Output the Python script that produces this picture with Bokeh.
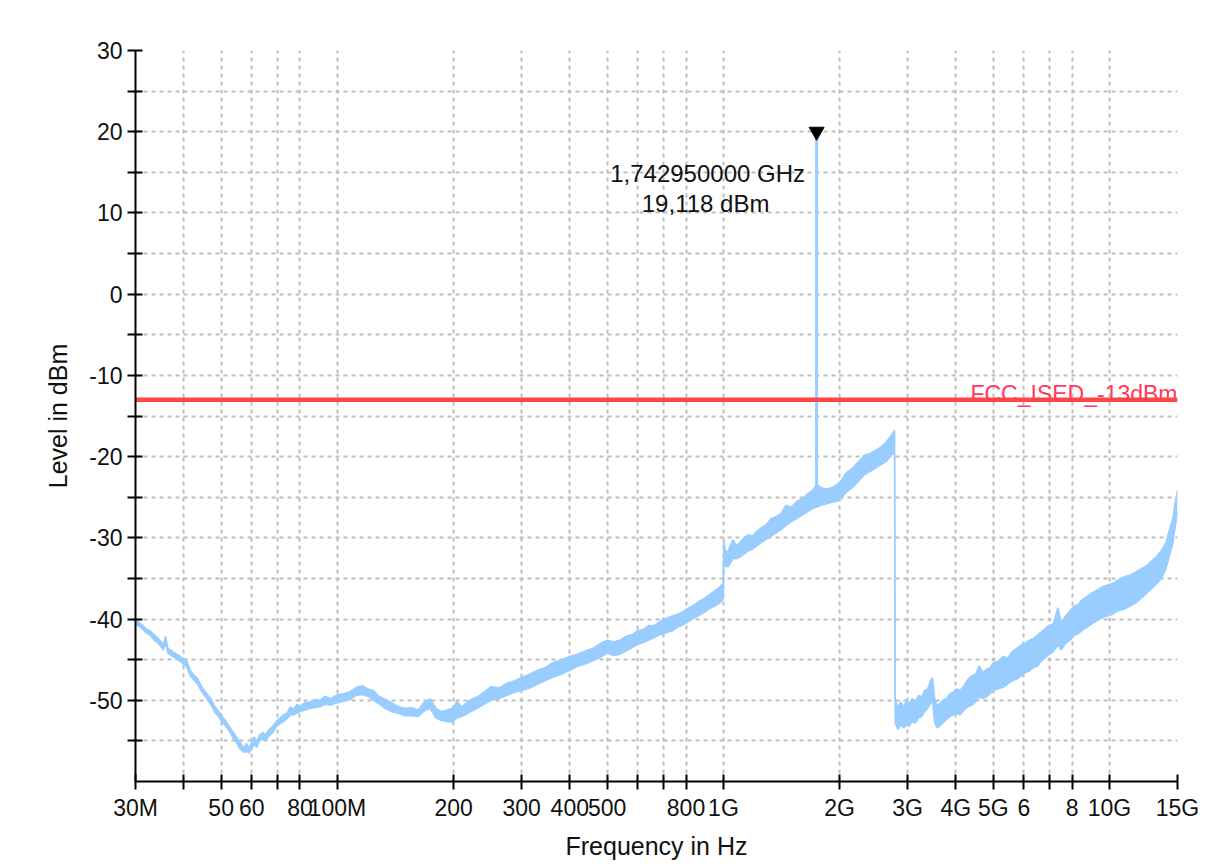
from bokeh.plotting import figure
from bokeh.models import Range1d, FixedTicker, CustomJSTickFormatter, Label
from bokeh.core.properties import value
from bokeh.embed import file_html
from bokeh.resources import INLINE

# ---------------- data ----------------
# spectrum trace: frequency in MHz with upper / lower edge of the noisy trace in dBm
freq_mhz = [
    30.0, 31.0, 32.0, 32.8, 33.5, 34.2, 34.8, 35.4, 35.9, 36.4, 37.2, 38.0, 39.2, 40.0, 40.6,
    41.6, 42.5, 43.4, 44.5, 45.6, 47.0, 48.2, 49.2, 50.3, 51.5, 52.8, 53.8, 54.8, 56.0, 57.2,
    58.2, 59.0, 60.0, 60.8, 61.8, 62.8, 64.0, 65.2, 66.5, 68.0, 69.5, 71.0, 72.5, 74.0, 75.5,
    77.0, 78.5, 80.0, 82.5, 85.0, 87.5, 90.0, 93.0, 96.0, 100.0,
    104, 108, 112, 116, 120, 124, 128, 133, 138, 144, 150, 156, 162, 168, 174, 180, 186, 192,
    198, 204, 210, 220, 230, 240, 250, 262, 275, 288, 300,
    315, 330, 345, 360, 380, 400, 420, 440, 460, 480, 500, 520, 540, 560, 580, 600, 620, 640,
    660, 680, 700, 720, 740, 760, 780, 800, 830, 860, 890, 920, 950, 980, 998,
    1003, 1010, 1025, 1040, 1060, 1080, 1100, 1130, 1160, 1190, 1220, 1250, 1290, 1330, 1370,
    1410, 1450, 1500, 1550, 1600, 1650, 1700, 1745, 1790, 1850, 1920, 2000, 2080, 2160, 2240,
    2320, 2400, 2480, 2560, 2640, 2720, 2775,
    2785, 2830, 2880, 2930, 2980, 3030, 3080, 3140, 3200, 3260, 3320, 3380, 3440, 3480, 3520,
    3570, 3630, 3700, 3780, 3860, 3940, 4020, 4100, 4200, 4300, 4400, 4500, 4600, 4700, 4800,
    4900, 5000, 5150, 5300, 5450, 5600, 5750, 5900, 6050, 6200, 6350, 6500, 6650, 6800, 6950,
    7150, 7350, 7500, 7700, 7900, 8100, 8300, 8500, 8750, 9000, 9300, 9600, 9900, 10200, 10500,
    10900, 11300, 11700, 12100, 12500, 12900, 13300, 13700, 14000, 14300, 14600, 14800, 15000,
]
level_hi = [
    -40.0, -40.6, -41.2, -41.5, -41.9, -42.3, -42.7, -43.1, -42.1, -43.6, -43.9, -44.2, -44.6, -45.0, -44.9,
    -46.3, -46.9, -47.3, -48.3, -49.0, -49.8, -50.8, -51.3, -52.0, -52.6, -53.4, -54.0, -54.5, -55.2, -55.8,
    -55.3, -55.9, -55.2, -54.5, -55.0, -54.3, -54.0, -54.2, -53.6, -53.2, -52.6, -52.2, -51.8, -51.6, -50.8,
    -51.1, -50.5, -50.7, -50.3, -50.2, -49.9, -50.0, -49.5, -49.8, -49.3,
    -49.2, -48.9, -48.4, -48.2, -48.6, -48.8, -49.5, -49.9, -50.3, -50.8, -51.0, -50.9, -51.2, -50.2, -49.8, -51.0, -51.4, -51.2,
    -51.0, -50.2, -50.8, -50.0, -49.6, -49.0, -48.3, -48.5, -47.9, -47.6, -47.2,
    -46.8, -46.3, -46.0, -45.4, -45.0, -44.6, -44.3, -43.9, -43.6, -43.0, -42.6, -42.8, -42.6, -42.1, -41.9, -41.4, -41.3, -40.8,
    -40.8, -40.4, -40.0, -39.8, -39.6, -39.4, -39.2, -38.8, -38.4, -37.9, -37.5, -37.0, -36.5, -36.0, -35.6,
    -30.2, -31.5, -31.8, -31.0, -30.2, -31.0, -30.6, -30.0, -29.6, -29.8, -29.2, -28.8, -28.4, -27.6, -27.4,
    -27.0, -26.0, -26.2, -25.5, -25.2, -24.6, -24.2, -23.4, -23.8, -24.0, -23.8, -23.2, -22.0, -21.4, -20.6,
    -19.8, -19.6, -19.2, -18.8, -18.2, -17.4, -16.8,
    -50.0, -50.8, -50.2, -50.8, -50.0, -50.4, -49.8, -50.2, -49.4, -49.6, -48.8, -48.6, -47.6, -47.2, -49.6,
    -50.6, -50.4, -50.0, -49.8, -49.2, -49.0, -48.6, -48.8, -48.2, -47.4, -47.0, -46.8, -45.8, -46.6, -46.2,
    -46.0, -45.4, -45.2, -44.6, -44.8, -44.0, -43.6, -43.2, -43.0, -42.6, -42.4, -42.0, -41.6, -41.2, -40.8,
    -40.6, -38.6, -40.4, -39.6, -39.0, -38.4, -38.2, -37.6, -37.2, -36.8, -36.4, -36.0, -35.8, -35.6, -35.2,
    -34.8, -34.6, -34.2, -33.8, -33.4, -32.8, -32.2, -31.4, -30.6, -29.0, -27.6, -25.6, -24.2,
]
level_lo = [
    -40.6, -41.1, -41.7, -42.0, -42.6, -42.9, -43.3, -43.8, -43.0, -44.2, -44.5, -44.8, -45.2, -45.6, -45.8,
    -47.0, -47.5, -48.0, -48.9, -49.6, -50.5, -51.5, -52.0, -52.7, -53.2, -54.0, -54.8, -55.2, -56.0, -56.4,
    -56.3, -56.5, -56.0, -55.4, -55.8, -55.0, -54.8, -55.0, -54.4, -54.0, -53.2, -52.9, -52.6, -52.3, -51.8,
    -51.8, -51.6, -51.4, -51.2, -51.0, -50.9, -50.8, -50.5, -50.6, -50.3,
    -50.1, -49.9, -49.4, -49.3, -49.5, -50.0, -50.4, -51.0, -51.4, -51.6, -51.9, -51.9, -52.0, -51.3, -51.0, -52.2, -52.5, -52.6,
    -52.7, -52.2, -52.0, -51.5, -51.0, -50.5, -50.0, -49.8, -49.4, -49.0, -48.8,
    -48.5, -48.0, -47.6, -47.2, -46.8, -46.3, -45.8, -45.5, -45.1, -44.7, -44.2, -44.5, -44.3, -43.9, -43.5, -43.1, -42.9, -42.6,
    -42.3, -42.0, -41.8, -41.6, -41.4, -41.0, -40.8, -40.5, -40.0, -39.6, -39.2, -38.7, -38.4, -38.0, -37.6,
    -33.5, -33.4, -33.6, -33.2, -32.5, -32.6, -32.4, -32.0, -31.6, -31.4, -31.0, -30.6, -30.2, -29.8, -29.4,
    -29.0, -28.5, -28.0, -27.6, -27.2, -26.8, -26.4, -26.2, -26.0, -25.8, -25.6, -25.4, -24.4, -23.8, -23.0,
    -22.2, -21.8, -21.4, -21.0, -20.6, -19.8, -19.6,
    -52.8, -53.6, -53.0, -53.4, -53.0, -53.2, -52.6, -52.8, -52.2, -52.0, -51.4, -51.0, -50.4, -50.0, -52.6,
    -53.4, -53.2, -52.8, -52.4, -52.0, -51.8, -51.6, -51.8, -51.2, -50.8, -50.6, -50.2, -49.6, -49.8, -49.6,
    -49.2, -48.8, -48.6, -48.4, -48.0, -47.6, -47.4, -47.0, -46.6, -46.4, -46.0, -45.8, -45.2, -44.8, -44.4,
    -44.0, -43.2, -43.8, -43.0, -42.6, -42.0, -41.8, -41.4, -41.0, -40.6, -40.2, -39.8, -39.6, -39.4, -39.0,
    -38.8, -38.4, -38.0, -37.4, -36.8, -36.2, -35.6, -34.8, -33.8, -32.2, -30.6, -28.6, -26.8,
]

# marker (peak)
peak_freq_mhz = 1742.95
peak_level = 19.118
peak_foot_level = -25.0

# limit line
limit_level = -13.0
limit_name = "FCC_ISED_-13dBm"

# axes
x_ticks = [30e6, 40e6, 50e6, 60e6, 70e6, 80e6, 100e6, 200e6, 300e6, 400e6, 500e6, 600e6,
           700e6, 800e6, 1e9, 2e9, 3e9, 4e9, 5e9, 6e9, 7e9, 8e9, 10e9, 15e9]
x_tick_labels = ["30M", "", "50", "60", "", "80", "100M", "200", "300", "400", "500", "",
                 "", "800", "1G", "2G", "3G", "4G", "5G", "6", "", "8", "10G", "15G"]
y_ticks = [-55, -50, -45, -40, -35, -30, -25, -20, -15, -10, -5, 0, 5, 10, 15, 20, 25, 30]
y_tick_labels = ["", "-50", "", "-40", "", "-30", "", "-20", "", "-10", "", "0", "", "10", "", "20", "", "30"]
x_min, x_max = 30e6, 15e9
y_min, y_max = -60, 30

# ---------------- figure ----------------
FONT = "Liberation Sans"
TRACE = "#99ccff"

p = figure(width=1217, height=862, x_axis_type="log",
           x_range=Range1d(x_min, x_max), y_range=Range1d(y_min, y_max),
           output_backend="svg", toolbar_location=None,
           min_border_left=135, min_border_right=40, min_border_top=50, min_border_bottom=79)
p.outline_line_color = None
p.background_fill_color = "white"
p.border_fill_color = "white"

freq_hz = [f * 1e6 for f in freq_mhz]
p.varea(x=freq_hz, y1=level_lo, y2=level_hi, fill_color=TRACE, fill_alpha=1.0)
p.line(freq_hz, level_hi, line_color=TRACE, line_width=1.5)
p.line(freq_hz, level_lo, line_color=TRACE, line_width=1.5)

peak_hz = peak_freq_mhz * 1e6
p.line([peak_hz, peak_hz], [peak_foot_level, peak_level], line_color=TRACE, line_width=3)

# limit line: name text drawn first, so the line covers its underscores
p.text(x=[x_max], y=[limit_level + 0.7], text=[limit_name], text_align="right",
       text_baseline="alphabetic", text_font=value(FONT), text_font_size="23px",
       text_color="#ff3a5c")
p.line([x_min, x_max], [limit_level, limit_level], line_color="#ff4545", line_width=4.5)

# peak marker
p.scatter([peak_hz], [peak_level + 0.9], marker="inverted_triangle", size=15,
          fill_color="black", line_color="black")
freq_txt = f"{peak_freq_mhz / 1000:.9f}".replace(".", ",") + " GHz"
lvl_txt = f"{peak_level:.3f}".replace(".", ",") + " dBm"
p.add_layout(Label(x=peak_hz, y=peak_level, text=freq_txt, text_align="center",
                   text_baseline="middle", x_offset=-109, y_offset=-35,
                   text_font=FONT, text_font_size="24px", text_color="#111111"))
p.add_layout(Label(x=peak_hz, y=peak_level, text=lvl_txt, text_align="center",
                   text_baseline="middle", x_offset=-111, y_offset=-65,
                   text_font=FONT, text_font_size="24px", text_color="#111111"))

# axes
p.xaxis.ticker = FixedTicker(ticks=x_ticks, minor_ticks=[])
p.yaxis.ticker = FixedTicker(ticks=y_ticks, minor_ticks=[])
p.xgrid.ticker = FixedTicker(ticks=x_ticks, minor_ticks=[])
p.ygrid.ticker = FixedTicker(ticks=y_ticks, minor_ticks=[])

fmt_code = """
for (let i = 0; i < tick_values.length; i++) {
    const t = tick_values[i];
    if (Math.abs(t - tick) <= Math.abs(t) * 1e-6 + 1e-9) { return tick_labels[i]; }
}
return "";
"""
p.xaxis.formatter = CustomJSTickFormatter(
    args=dict(tick_values=x_ticks, tick_labels=x_tick_labels), code=fmt_code)
p.yaxis.formatter = CustomJSTickFormatter(
    args=dict(tick_values=y_ticks, tick_labels=y_tick_labels), code=fmt_code)

p.xaxis.axis_label = "Frequency in Hz"
p.yaxis.axis_label = "Level in dBm"
for ax in (p.xaxis, p.yaxis):
    ax.axis_line_width = 2
    ax.axis_line_color = "black"
    ax.major_tick_line_width = 2
    ax.major_tick_line_color = "black"
    ax.major_tick_in = 7
    ax.major_tick_out = 8
    ax.minor_tick_line_color = None
    ax.major_label_text_font = FONT
    ax.major_label_text_font_size = "23px"
    ax.major_label_text_color = "#111111"
    ax.major_label_standoff = 5
    ax.axis_label_text_font = FONT
    ax.axis_label_text_font_size = "25px"
    ax.axis_label_text_font_style = "normal"
    ax.axis_label_text_color = "#111111"
p.xaxis.axis_label_standoff = 8
p.yaxis.axis_label_standoff = 14

p.grid.grid_line_color = "#bdbdbd"
p.grid.grid_line_width = 2
p.grid.grid_line_dash = "4 4"

open("out.html", "w").write(file_html(p, INLINE))
